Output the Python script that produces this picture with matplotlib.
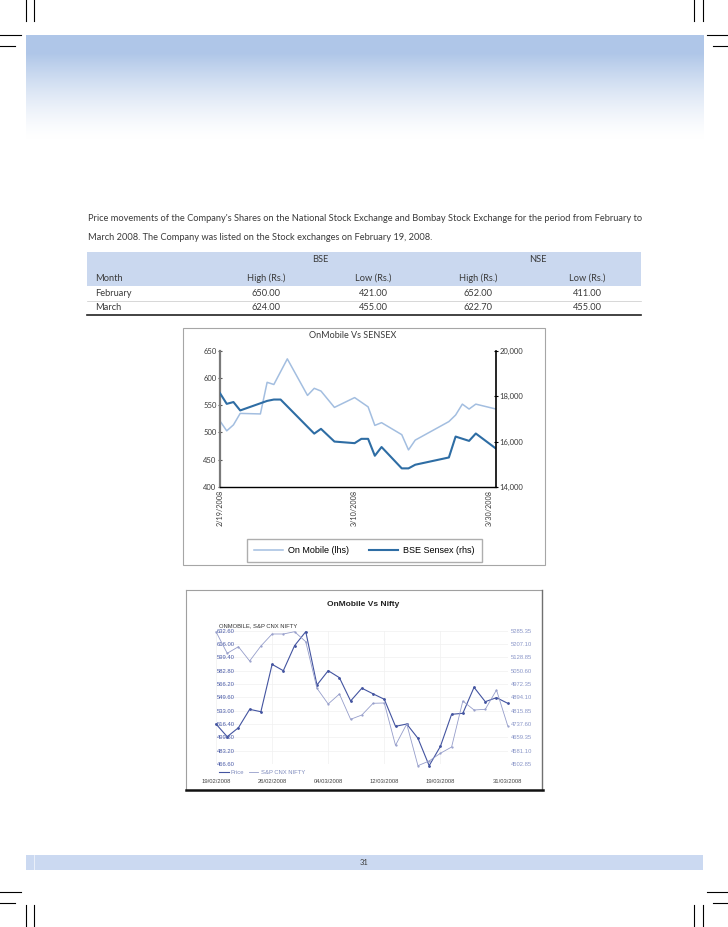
import matplotlib
matplotlib.use("Agg")
import matplotlib.pyplot as plt
import numpy as np
from matplotlib.lines import Line2D
from matplotlib.patches import Rectangle

W, H = 728, 927

# texto de la página
intro_1 = ("Price movements of the Company's Shares on the National Stock Exchange "
           "and Bombay Stock Exchange for the period from February to")
intro_2 = "March 2008. The Company was listed on the Stock exchanges on February 19, 2008."
page_no = "31"

# tabla
exchanges = ["BSE", "NSE"]
col_heads = ["Month", "High (Rs.)", "Low (Rs.)", "High (Rs.)", "Low (Rs.)"]
months = ["February", "March"]
bse_high = [650.00, 624.00]
bse_low = [421.00, 455.00]
nse_high = [652.00, 622.70]
nse_low = [411.00, 455.00]

# grafico 1: dias desde 19/02/2008
onm_days = [0, 1, 2, 3, 6, 7, 8, 10, 13, 14, 15, 17, 20, 22, 23, 24, 27, 28, 29, 34, 35, 36, 37, 38, 41]
onm_price = [521, 503, 514, 535, 534, 592, 588, 635, 568, 581, 576, 546, 564, 547, 513, 518,
             496, 468, 486, 520, 532, 552, 543, 552, 543]
sensex_days = [0, 1, 2, 3, 7, 8, 9, 14, 15, 17, 20, 21, 22, 23, 24, 27, 28, 29, 34, 35, 37, 38, 41]
sensex = [18130, 17660, 17740, 17370, 17790, 17850, 17850, 16350, 16560, 16000, 15930, 16120,
          16120, 15375, 15760, 14820, 14820, 14980, 15300, 16220, 16030, 16355, 15690]
c1_ticks = [0, 20, 40]
c1_labels = ["2/19/2008", "3/10/2008", "3/30/2008"]

# grafico 2: sesiones
sessions = ["19/02/2008", "20/02/2008", "21/02/2008", "22/02/2008", "25/02/2008", "26/02/2008",
            "27/02/2008", "28/02/2008", "29/02/2008", "03/03/2008", "04/03/2008", "05/03/2008",
            "07/03/2008", "10/03/2008", "11/03/2008", "12/03/2008", "13/03/2008", "14/03/2008",
            "17/03/2008", "18/03/2008", "19/03/2008", "24/03/2008", "25/03/2008", "26/03/2008",
            "27/03/2008", "28/03/2008", "31/03/2008"]
price = [516.4, 500.6, 511.8, 534.7, 531.7, 590.7, 582.8, 613.9, 631.4, 565.0, 582.8, 574.1,
         545.1, 561.0, 554.0, 547.2, 513.5, 516.4, 498.6, 464.5, 488.5, 528.5, 529.7, 562.1,
         544.2, 549.2, 542.2]
nifty = [5279.5, 5152.7, 5191.4, 5107.5, 5195.5, 5266.0, 5266.0, 5279.5, 5220.8, 4947.2,
         4855.1, 4913.8, 4765.3, 4790.5, 4859.2, 4861.0, 4612.6, 4737.7, 4492.9, 4520.5,
         4565.7, 4602.6, 4872.7, 4819.9, 4823.9, 4937.2, 4727.7]
c2_left_ticks = [632.60, 616.00, 599.40, 582.80, 566.20, 549.60, 533.00, 516.40, 499.80, 483.20, 466.60]
c2_right_ticks = [5285.35, 5207.10, 5128.85, 5050.60, 4972.35, 4894.10, 4815.85, 4737.60,
                  4659.35, 4581.10, 4502.85]
c2_label_idx = [0, 5, 10, 15, 20, 26]

GILL = "Lato"
ARIAL = "Liberation Sans"
TXT = "#3a3a3a"


def fx(x):
    return x / W


def fy(y):
    return 1 - y / H


def fline(x0, y0, x1, y1, **kw):
    fig.add_artist(Line2D([fx(x0), fx(x1)], [fy(y0), fy(y1)], transform=fig.transFigure, **kw))


fig = plt.figure(figsize=(W / 100, H / 100), dpi=100)

# marcas de corte
for x in (25.5, 34):
    fline(x, 0, x, 21, color="k", lw=0.8)
    fline(W - x, 0, W - x, 21, color="k", lw=0.8)
    fline(x, 905, x, H, color="k", lw=0.8)
    fline(W - x, 905, W - x, H, color="k", lw=0.8)
fline(0, 35, 21, 35, color="k", lw=0.8)
fline(0, 46, 15, 46, color="k", lw=0.8)
fline(W, 35, W - 21, 35, color="k", lw=0.8)
fline(W, 46, W - 15, 46, color="k", lw=0.8)
fline(0, 892, 21, 892, color="k", lw=0.8)
fline(0, 903, 15, 903, color="k", lw=0.8)
fline(W, 892, W - 21, 892, color="k", lw=0.8)
fline(W, 903, W - 15, 903, color="k", lw=0.8)

# cabecera degradada
ax_h = fig.add_axes([fx(25.5), fy(139), fx(703) - fx(25.5), fy(35) - fy(139)])
ax_h.axis("off")
t = np.linspace(0, 1, 300)
a = np.where(t < 0.18, 1.0, np.clip(1 - (t - 0.18) / 0.82, 0, 1) ** 1.4)
base = np.array([0.69, 0.78, 0.91])
img = 1 - a[:, None] * (1 - base[None, :])
ax_h.imshow(img[:, None, :], aspect="auto", extent=[0, 1, 0, 1])

# pie de página
fig.patches.append(Rectangle((fx(25.5), fy(870)), fx(703) - fx(25.5), 15 / H,
                             transform=fig.transFigure, color="#cbd9f1", lw=0))
fline(34, 855, 34, 870, color="white", lw=0.6, alpha=0.7)
fig.text(fx(364), fy(862.5), page_no, ha="center", va="center", fontsize=5.5, family=GILL, color=TXT)

# párrafo
p1 = fig.text(fx(88), fy(218.5), intro_1, va="center", fontsize=7, family=GILL, color=TXT)
fig.canvas.draw()
fs = 7 * 551 / p1.get_window_extent().width
p1.set_fontsize(fs)
fig.text(fx(88), fy(237), intro_2, va="center", fontsize=fs, family=GILL, color=TXT)

# tabla
fig.patches.append(Rectangle((fx(87), fy(286)), fx(641) - fx(87), 34 / H,
                             transform=fig.transFigure, color="#cad8ef", lw=0))
col_x = [95, 266, 373, 478, 587]
for name, xc in zip(exchanges, [320, 538]):
    fig.text(fx(xc), fy(259.5), name, ha="center", va="center", fontsize=fs, family=GILL, color=TXT)
for i, head in enumerate(col_heads):
    fig.text(fx(col_x[i]), fy(278), head, ha="left" if i == 0 else "center", va="center",
             fontsize=fs, family=GILL, color=TXT)
for r, m in enumerate(months):
    yr = 294 + r * 14
    fig.text(fx(col_x[0]), fy(yr), m, ha="left", va="center", fontsize=fs, family=GILL, color=TXT)
    for j, vals in enumerate([bse_high, bse_low, nse_high, nse_low]):
        fig.text(fx(col_x[j + 1]), fy(yr), f"{vals[r]:.2f}", ha="center", va="center",
                 fontsize=fs, family=GILL, color=TXT)
fline(87, 301, 641, 301, color="#c8c8c8", lw=0.5)
fline(87, 315, 641, 315, color="#222222", lw=1.2)

# ---------- grafico 1 ----------
fig.patches.append(Rectangle((fx(183), fy(565)), fx(545) - fx(183), (565 - 328) / H,
                             transform=fig.transFigure, fill=False, ec="#a6a6a6", lw=0.8))
fig.text(fx(353), fy(335.5), "OnMobile Vs SENSEX", ha="center", va="center",
         fontsize=6.5, family=GILL, color=TXT)

ax1 = fig.add_axes([fx(220), fy(487), fx(496) - fx(220), fy(350.7) - fy(487)])
ax1.patch.set_visible(False)
l1, = ax1.plot(onm_days, onm_price, color="#a3bee0", lw=1.1, label="On Mobile (lhs)")
ax1.set_xlim(0, 41)
ax1.set_ylim(400, 650)
ax1.set_yticks(range(400, 651, 50))
ax1.set_xticks(c1_ticks, c1_labels, rotation=90)
for s in ("top", "right"):
    ax1.spines[s].set_visible(False)
ax1.spines["left"].set_color("#7a7a7a")
ax1.spines["left"].set_linewidth(1.6)
ax1.spines["bottom"].set_linewidth(1.0)
ax1.tick_params(axis="y", direction="inout", length=3, width=0.8, color="#555555",
                labelsize=5.5, pad=1, labelcolor=TXT)
ax1.tick_params(axis="x", length=0, labelsize=5.2, pad=2, labelcolor=TXT)
for lab in ax1.get_xticklabels() + ax1.get_yticklabels():
    lab.set_family(GILL)

ax1r = ax1.twinx()
l2, = ax1r.plot(sensex_days, sensex, color="#2e6da4", lw=1.5, label="BSE Sensex (rhs)")
ax1r.set_ylim(14000, 20000)
ax1r.set_yticks(range(14000, 20001, 2000), [f"{v:,}" for v in range(14000, 20001, 2000)])
for s in ("top", "left", "bottom"):
    ax1r.spines[s].set_visible(False)
ax1r.spines["right"].set_linewidth(1.2)
ax1r.tick_params(axis="y", direction="inout", length=3, width=0.8, labelsize=5.5, pad=1,
                 labelcolor=TXT)
for lab in ax1r.get_yticklabels():
    lab.set_family(GILL)

fig.legend([l1, l2], [l1.get_label(), l2.get_label()], loc="center",
           bbox_to_anchor=(fx(364.5), fy(550.5)), ncol=2, frameon=True, fancybox=False,
           edgecolor="#9a9a9a", prop={"family": ARIAL, "size": 6.5}, handlelength=3.2,
           columnspacing=2.2, borderpad=0.8, handletextpad=0.6)

# ---------- grafico 2 ----------
fline(186, 590, 542, 590, color="#a0a0a0", lw=0.8)
fline(186, 590, 186, 790, color="#a0a0a0", lw=0.8)
fline(542, 590, 542, 790, color="#707070", lw=1.0)
fline(185.5, 790, 542.5, 790, color="#111111", lw=1.8)
fig.text(fx(362.7), fy(605), "OnMobile Vs Nifty", ha="center", va="center",
         fontsize=6, fontweight="bold", family=ARIAL, color="#222222")
fig.text(fx(219), fy(626), "ONMOBILE, S&P CNX NIFTY", ha="left", va="center",
         fontsize=4.2, family=ARIAL, color="#333333")

ax2 = fig.add_axes([fx(216), fy(764), fx(507.7) - fx(216), fy(630.7) - fy(764)])
ax2.patch.set_visible(False)
x2 = np.arange(len(sessions))
p_line, = ax2.plot(x2, price, color="#4354a0", lw=0.8, marker="o", ms=1.0, clip_on=False, label="Price")
ax2.set_xlim(0, len(sessions) - 1)
ax2.set_ylim(466.6, 632.6)
ax2.set_yticks(c2_left_ticks, [f"{v:.2f}" for v in c2_left_ticks])
ax2.set_xticks(c2_label_idx, [sessions[i] for i in c2_label_idx])
ax2.grid(color="#f0f0f0", lw=0.5)
ax2.set_axisbelow(True)
for s in ax2.spines.values():
    s.set_visible(False)
ax2.tick_params(axis="y", length=0, labelsize=4.2, pad=-0.5, labelcolor="#4b5ca8")
ax2.tick_params(axis="x", length=0, labelsize=4.2, pad=10.5, labelcolor="#444444")
for lab in ax2.get_yticklabels():
    lab.set_ha("left")
for lab in ax2.get_xticklabels() + ax2.get_yticklabels():
    lab.set_family(ARIAL)

ax2r = ax2.twinx()
n_line, = ax2r.plot(x2, nifty, color="#959dca", lw=0.6, marker="o", ms=0.6, clip_on=False,
                    label="S&P CNX NIFTY")
ax2r.set_ylim(4502.85, 5285.35)
ax2r.set_yticks(c2_right_ticks, [f"{v:.2f}" for v in c2_right_ticks])
for s in ax2r.spines.values():
    s.set_visible(False)
ax2r.tick_params(axis="y", length=0, labelsize=4.2, pad=2.2, labelcolor="#8a96c8")
for lab in ax2r.get_yticklabels():
    lab.set_family(ARIAL)

fig.legend([p_line, n_line], ["Price", "S&P CNX NIFTY"], loc="center left",
           bbox_to_anchor=(fx(214), fy(772.7)), ncol=2, frameon=False,
           prop={"family": ARIAL, "size": 4.2}, labelcolor="#7f8bbd", handlelength=1.6,
           handletextpad=0.4, columnspacing=0.8, markerscale=0)

fig.savefig("out.png", dpi=100)
